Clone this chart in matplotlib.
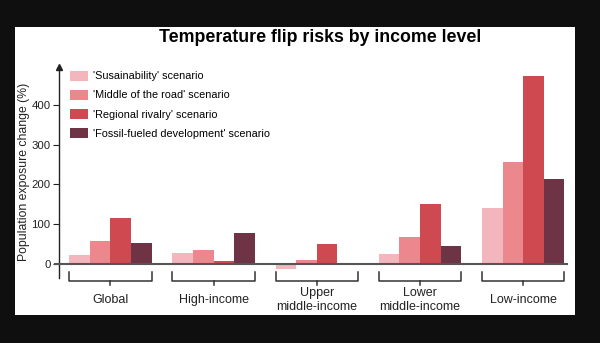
import matplotlib.pyplot as plt
from matplotlib.patches import Rectangle

plt.rcParams['font.family'] = ['Liberation Sans', 'DejaVu Sans']

# data
groups = ['Global', 'High-income', 'Upper\nmiddle-income', 'Lower\nmiddle-income', 'Low-income']
scenarios = ["'Susainability' scenario", "'Middle of the road' scenario",
             "'Regional rivalry' scenario", "'Fossil-fueled development' scenario"]
sustainability = [22, 26, -13, 23, 140]
middle_road = [57, 33, 9, 66, 255]
regional = [116, 6, 50, 150, 474]
fossil = [52, 78, 2, 44, 214]
colors = ['#f2b6bc', '#ec888d', '#cf4a50', '#6e3446']

fig = plt.figure(figsize=(6, 3.43), dpi=100, facecolor='#0f0f0f')
# white panel
fig.patches.append(Rectangle((0.025, 0.082), 0.933, 0.839, transform=fig.transFigure,
                             facecolor='white', edgecolor='none', zorder=-10))

ax = fig.add_axes([0.098, 0.19, 0.86, 0.616])
ax.set_zorder(1)
ax.patch.set_alpha(0)

w = 0.2
series = [sustainability, middle_road, regional, fossil]
for i, vals in enumerate(series):
    xs = [g + (i - 1.5) * w for g in range(len(groups))]
    ax.bar(xs, vals, width=w, color=colors[i], label=scenarios[i], zorder=2)

ax.set_xlim(-0.5, 4.5)
ax.set_ylim(-36, 497)

# zero baseline
ax.plot([-0.54, 4.42], [0, 0], color='#555555', lw=1.5, clip_on=False, zorder=3)

# brackets and group labels
for g, name in enumerate(groups):
    x0, x1 = g - 0.4, g + 0.4
    ax.plot([x0, x0, x1, x1], [-21, -43, -43, -21], color='#333333', lw=1.1, clip_on=False)
    ax.plot([g, g], [-43, -54], color='#333333', lw=1.1, clip_on=False)
    ax.text(g, -91, name, ha='center', va='center', fontsize=9, color='#222222',
            linespacing=1.25, clip_on=False)

for s in ['top', 'right', 'bottom']:
    ax.spines[s].set_visible(False)
ax.spines['left'].set_color('#222222')
ax.spines['left'].set_linewidth(1)
ax.plot(0, 1, marker='^', color='#222222', markersize=4, transform=ax.transAxes, clip_on=False)

ax.set_xticks([])
ax.set_yticks([0, 100, 200, 300, 400])
ax.tick_params(axis='y', labelsize=8.2, length=4, pad=2, color='#222222', labelcolor='#222222')
ax.set_ylabel('Population exposure change (%)', fontsize=8.8, color='#222222', labelpad=1)

ax.legend(loc='upper left', bbox_to_anchor=(0.01, 1.01), frameon=False, fontsize=7.8,
          handlelength=1.6, handleheight=1.0, handletextpad=0.5, labelspacing=0.78,
          borderaxespad=0.2)

fig.text(0.533, 0.892, 'Temperature flip risks by income level', ha='center', va='center',
         fontsize=12.8, fontweight='bold', color='black')

fig.savefig('out.png', dpi=100, facecolor=fig.get_facecolor())
